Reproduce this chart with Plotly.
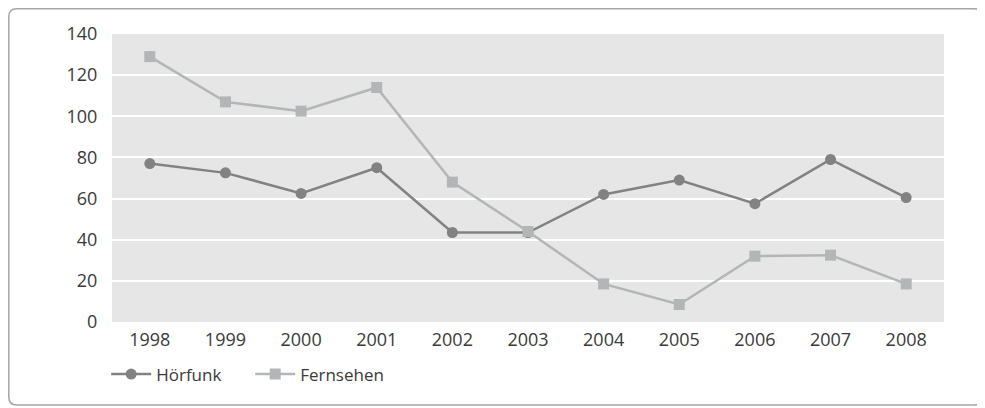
import plotly.graph_objects as go

years = ["1998", "1999", "2000", "2001", "2002", "2003", "2004", "2005", "2006", "2007", "2008"]
hoerfunk = [77, 72.5, 62.5, 75, 43.5, 43.5, 62, 69, 57.5, 79, 60.5]
fernsehen = [129, 107, 102.5, 114, 68, 44, 18.5, 8.5, 32, 32.5, 18.5]
y_ticks = [0, 20, 40, 60, 80, 100, 120, 140]

# the page body has an 8px margin; work in figure coordinates
OFF = 8
W, H = 985 - OFF, 408 - OFF
L, R, T, B = 112 - OFF, 41, 34 - OFF, 86
pw, ph = W - L - R, H - T - B

def px(x):
    return (x - L) / pw

def py(y):
    return (H - B - y) / ph

fig = go.Figure()
fig.add_trace(go.Scatter(
    x=years, y=hoerfunk, name="Hörfunk", mode="lines+markers",
    line=dict(color="#828282", width=2.5),
    marker=dict(symbol="circle", size=11, color="#828282"),
))
fig.add_trace(go.Scatter(
    x=years, y=fernsehen, name="Fernsehen", mode="lines+markers",
    line=dict(color="#b3b6b6", width=2.5),
    marker=dict(symbol="square", size=11, color="#b3b6b6"),
))

# rounded border box
x0, x1, y0, y1, r = 0.8, 974, 0.8, 397, 8
path = (
    f"M {px(x0 + r)},{py(y0)} L {px(x1 - r)},{py(y0)} "
    f"Q {px(x1)},{py(y0)} {px(x1)},{py(y0 + r)} "
    f"L {px(x1)},{py(y1 - r)} Q {px(x1)},{py(y1)} {px(x1 - r)},{py(y1)} "
    f"L {px(x0 + r)},{py(y1)} Q {px(x0)},{py(y1)} {px(x0)},{py(y1 - r)} "
    f"L {px(x0)},{py(y0 + r)} Q {px(x0)},{py(y0)} {px(x0 + r)},{py(y0)} Z"
)
fig.add_shape(type="path", path=path, xref="paper", yref="paper",
              line=dict(color="#a6a6a6", width=1.5), layer="below")

fig.update_layout(
    width=W, height=H,
    margin=dict(l=L, r=R, t=T, b=B),
    paper_bgcolor="white",
    plot_bgcolor="#e6e6e6",
    font=dict(family="Open Sans", size=18, color="#3a3a3a"),
    showlegend=True,
    legend=dict(orientation="h", x=-0.007, y=-0.12, xanchor="left", yanchor="top",
                font=dict(size=17), itemwidth=40, entrywidth=89, entrywidthmode="pixels",
                bgcolor="rgba(0,0,0,0)"),
)
fig.update_xaxes(type="category", range=[-0.5, 10.5], showgrid=False, zeroline=False,
                 showline=False, ticks="outside", ticklen=1, tickcolor="rgba(0,0,0,0)")
fig.update_yaxes(range=[0, 140], tickvals=y_ticks, showgrid=True, gridcolor="white",
                 gridwidth=2, zeroline=False, showline=False,
                 ticks="outside", ticklen=10, tickcolor="rgba(0,0,0,0)")

fig.write_html("out.html")
